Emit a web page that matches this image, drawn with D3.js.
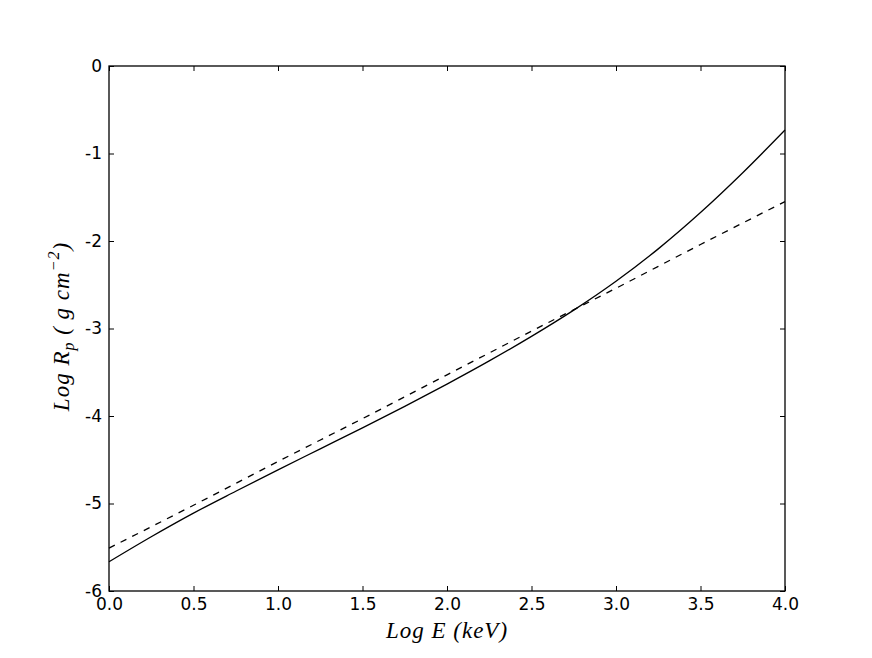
<!DOCTYPE html>
<html>
  <head>
    <meta charset="utf-8" />
    <script src="https://d3js.org/d3.v7.min.js"></script>
    <style>
      body { margin: 0; background: white; }
      svg text { font-family: 'DejaVu Sans', sans-serif; }
      .lbl { font-family: 'Liberation Serif', 'DejaVu Serif', serif; font-style: italic; letter-spacing: 1px; }
    </style>
    <title>Log Rp vs Log E</title>
  </head>

  <body>
    <div id="chart"></div>
  </body>

  <script>
    // data
    var logE = [0, 0.25, 0.5, 0.75, 1.0, 1.25, 1.5, 1.75, 2.0, 2.25, 2.5, 2.75, 3.0, 3.25, 3.5, 3.75, 4.0];
    var rangeSolid = [-5.666, -5.38, -5.11, -4.86, -4.615, -4.375, -4.135, -3.89, -3.635, -3.37, -3.09, -2.79, -2.46, -2.09, -1.675, -1.22, -0.732];
    var logEDashed = [0, 0.5, 1.0, 1.5, 2.0, 2.5, 3.0, 3.5, 4.0];
    var rangeDashed = [-5.51, -5.02, -4.52, -4.03, -3.53, -3.03, -2.54, -2.04, -1.55];
    var xTicks = [0, 0.5, 1.0, 1.5, 2.0, 2.5, 3.0, 3.5, 4.0];
    var yTicks = [-6, -5, -4, -3, -2, -1, 0];

    var width = 872,
      height = 658;
    var margin = { left: 109, right: 87, top: 66, bottom: 67 };

    var svg = d3
      .select('#chart')
      .append('svg')
      .attr('width', width)
      .attr('height', height);

    var x = d3.scaleLinear().domain([0, 4]).range([margin.left, width - margin.right]);
    var y = d3.scaleLinear().domain([-6, 0]).range([height - margin.bottom, margin.top]);

    var tickLen = 5;

    // axes with ticks pointing inward
    svg
      .append('g')
      .attr('transform', 'translate(0,' + y(-6) + ')')
      .call(d3.axisBottom(x).tickValues(xTicks).tickFormat(d3.format('.1f')).tickSizeInner(-tickLen).tickSizeOuter(0).tickPadding(7))
      .call((g) => g.select('.domain').remove())
      .selectAll('text')
      .style('font-size', '17px')
      .attr('fill', 'black');

    svg
      .append('g')
      .attr('transform', 'translate(0,' + y(0) + ')')
      .call(d3.axisTop(x).tickValues(xTicks).tickFormat('').tickSizeInner(-tickLen).tickSizeOuter(0))
      .call((g) => g.select('.domain').remove());

    svg
      .append('g')
      .attr('transform', 'translate(' + x(0) + ',0)')
      .call(d3.axisLeft(y).tickValues(yTicks).tickFormat((d) => String(d)).tickSizeInner(-tickLen).tickSizeOuter(0).tickPadding(7))
      .call((g) => g.select('.domain').remove())
      .selectAll('text')
      .style('font-size', '17px')
      .attr('fill', 'black');

    svg
      .append('g')
      .attr('transform', 'translate(' + x(4) + ',0)')
      .call(d3.axisRight(y).tickValues(yTicks).tickFormat('').tickSizeInner(-tickLen).tickSizeOuter(0))
      .call((g) => g.select('.domain').remove());

    svg.selectAll('.tick line').attr('stroke', 'black').attr('stroke-width', 1);

    // curves
    var solidLine = d3
      .line()
      .x((d, i) => x(logE[i]))
      .y((d) => y(d))
      .curve(d3.curveMonotoneX);

    var dashedLine = d3
      .line()
      .x((d, i) => x(logEDashed[i]))
      .y((d) => y(d))
      .curve(d3.curveMonotoneX);

    svg
      .append('path')
      .attr('d', solidLine(rangeSolid))
      .attr('fill', 'none')
      .attr('stroke', 'black')
      .attr('stroke-width', 1.3);

    svg
      .append('path')
      .attr('d', dashedLine(rangeDashed))
      .attr('fill', 'none')
      .attr('stroke', 'black')
      .attr('stroke-width', 1.3)
      .attr('stroke-dasharray', '6.5,6.5');

    // frame
    svg
      .append('rect')
      .attr('x', x(0))
      .attr('y', y(0))
      .attr('width', x(4) - x(0))
      .attr('height', y(-6) - y(0))
      .attr('fill', 'none')
      .attr('stroke', 'black')
      .attr('stroke-width', 1.3);

    // axis labels
    var xl = svg
      .append('text')
      .attr('class', 'lbl')
      .attr('x', (x(0) + x(4)) / 2)
      .attr('y', 638)
      .attr('text-anchor', 'middle')
      .style('font-size', '23px');
    xl.append('tspan').text('Log E (keV)');

    var yl = svg
      .append('text')
      .attr('class', 'lbl')
      .attr('transform', 'translate(69,' + (y(-3) - 2) + ') rotate(-90)')
      .attr('text-anchor', 'middle')
      .style('font-size', '23px');
    yl.append('tspan').text('Log R');
    yl.append('tspan').attr('dy', 5).style('font-size', '16px').text('p');
    yl.append('tspan').attr('dy', -5).text(' ( g cm');
    yl.append('tspan').attr('dy', -10).style('font-size', '16px').text('\u22122');
    yl.append('tspan').attr('dy', 10).text(')');
  </script>
</html>
